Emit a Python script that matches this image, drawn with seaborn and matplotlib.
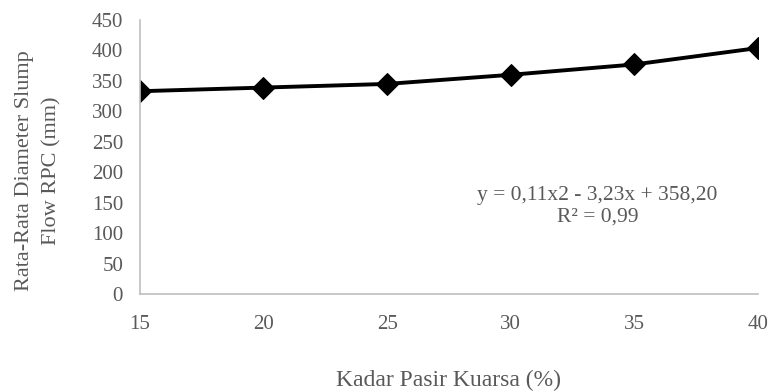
import matplotlib
matplotlib.use("Agg")
import matplotlib.pyplot as plt
import seaborn as sns
import pandas as pd

kadar = [15, 20, 25, 30, 35, 40]
diameter = [333, 339, 345, 360, 377, 404]
x_ticks = [15, 20, 25, 30, 35, 40]
y_ticks = [0, 50, 100, 150, 200, 250, 300, 350, 400, 450]

sns.set_theme(style="white")
plt.rcParams['font.family'] = ['Liberation Serif', 'DejaVu Serif']

df = pd.DataFrame({"Kadar": kadar, "Diameter": diameter})

fig = plt.figure(figsize=(7.72, 3.92), dpi=100)
ax = fig.add_axes([0.181, 0.25, 0.801, 0.699])
sns.lineplot(data=df, x="Kadar", y="Diameter", ax=ax, color="black",
             linewidth=2.8, marker="D", markersize=11, markeredgecolor="black")

ax.set_xlim(15, 40)
ax.set_ylim(0, 450)
ax.set_xticks(x_ticks)
ax.set_yticks(y_ticks)
ax.tick_params(axis="both", length=0, labelsize=15, colors="#595959")
ax.tick_params(axis="x", pad=15)
ax.tick_params(axis="y", pad=12)
for s in ["top", "right"]:
    ax.spines[s].set_visible(False)
for s in ["left", "bottom"]:
    ax.spines[s].set_color("#bfbfbf")
    ax.spines[s].set_linewidth(1.2)

ax.set_xlabel("Kadar Pasir Kuarsa (%)", fontsize=17, color="#595959", labelpad=26)
ax.set_ylabel("Rata-Rata Diameter Slump\nFlow RPC (mm)", fontsize=16, color="#595959",
              labelpad=8, linespacing=1.6)
ax.yaxis.set_label_coords(-0.126, 0.45)

ax.text(33.5, 144, "y = 0,11x2 - 3,23x + 358,20\nR² = 0,99", ha="center", va="center",
        fontsize=15.5, color="#595959", linespacing=1.15)

fig.savefig("out.png", dpi=100)
